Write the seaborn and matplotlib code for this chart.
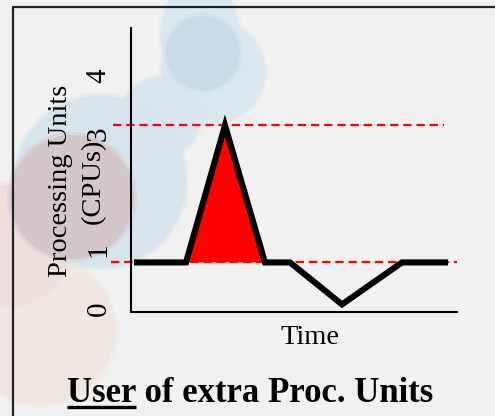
import matplotlib
matplotlib.use("Agg")
import matplotlib.pyplot as plt
import seaborn as sns
import pandas as pd
import numpy as np
from matplotlib.patches import Circle, Ellipse
from matplotlib.lines import Line2D

# data
time_pts = [0, 5.2, 9.1, 13.1, 15.6, 20.8, 26.8, 31.4]
cpu_units = [0.79, 0.79, 3.14, 0.79, 0.79, 0.07, 0.79, 0.79]
base_level = 0.79
peak_level = 3.14
ytick_vals = [0, 1, 3, 4]
ytick_text = ["0", "1", "3", "4"]

df = pd.DataFrame({"Time": time_pts, "CPUs": cpu_units})

sns.set_style("white")
plt.rcParams["font.family"] = ["Liberation Serif", "DejaVu Serif"]
plt.rcParams["text.color"] = "black"
plt.rcParams["axes.labelcolor"] = "black"
plt.rcParams["ytick.color"] = "black"
plt.rcParams["lines.scale_dashes"] = False

fig = plt.figure(figsize=(4.95, 4.16), dpi=100)
fig.patch.set_facecolor("#f1f1f1")

# background decoration (soft shapes)
bg = fig.add_axes([0, 0, 1, 1], zorder=-10)
bg.set_xlim(0, 495)
bg.set_ylim(416, 0)
bg.axis("off")

def blob(cx, cy, r, color, ell=1.0, soft=True):
    if soft:
        bg.add_patch(Ellipse((cx, cy), 2 * r * ell + 6, 2 * r + 6, color=color, alpha=0.4, lw=0))
    bg.add_patch(Ellipse((cx, cy), 2 * r * ell, 2 * r, color=color, lw=0))

blob(40, 330, 75, "#efe6e1")
blob(10, 245, 60, "#eedfdc")
blob(200, 35, 55, "#dae7ef", ell=0.72)
blob(213, 72, 52, "#dbe7ef")
blob(160, 118, 40, "#d8e5ed")
blob(100, 182, 86, "#d6e4ec")
blob(203, 53, 37, "#c9dbe7")
blob(72, 197, 62, "#d3c7cc")

# frame (only top and left edges visible)
fig.add_artist(Line2D([13 / 495, 1], [1 - 7 / 416] * 2, color="#222222", lw=1.6))
fig.add_artist(Line2D([13 / 495] * 2, [0, 1 - 7 / 416], color="#222222", lw=1.6))

ax = fig.add_axes([131 / 495, 1 - 312 / 416, 326 / 495, 284 / 416])
ax.set_facecolor("none")

# threshold lines
ax.plot([-2.3, 32.3], [base_level] * 2, color="#ff0000", lw=1.6, dashes=(6, 3.5), clip_on=False, zorder=2)
ax.plot([-2.1, 31.0], [peak_level] * 2, color="#ff0000", lw=1.6, dashes=(6, 3.5), clip_on=False, zorder=2)

y = np.array(cpu_units)
ax.fill_between(time_pts, y, base_level, where=y >= base_level, interpolate=True,
                color="#ff0000", lw=0, zorder=3)
sns.lineplot(data=df, x="Time", y="CPUs", sort=False, color="black", lw=4.4, ax=ax,
             zorder=4, solid_joinstyle="miter", solid_capstyle="butt")

ax.set_xlim(-0.3, 32.3)
ax.set_ylim(-0.06, 4.81)
ax.set_xticks([])
ax.set_yticks(ytick_vals)
ax.set_yticklabels(ytick_text, rotation=90, va="center")
ax.tick_params(axis="y", length=0, pad=14, labelsize=21, labelcolor="black")
for s in ["top", "right"]:
    ax.spines[s].set_visible(False)
for s in ["left", "bottom"]:
    ax.spines[s].set_color("black")
    ax.spines[s].set_linewidth(1.5)

ax.set_xlabel("Time", fontsize=20.5, color="black")
ax.xaxis.set_label_coords(0.549, -0.045)
ax.set_ylabel("Processing Units\n(CPUs)", fontsize=20.5, color="black",
              multialignment="center", linespacing=1.45)
ax.yaxis.label.set_verticalalignment("center")
ax.yaxis.set_label_coords(-0.166, 0.46)

# title with underlined first word
title_kw = dict(fontsize=25, fontweight="bold", color="black")
t = fig.text(250 / 495, 1 - 402 / 416, "User of extra Proc. Units", ha="center", va="baseline", **title_kw)
fig.canvas.draw()
r = fig.canvas.get_renderer()
bb = t.get_window_extent(r)
tmp = fig.text(0, 0, "User", **title_kw)
w = tmp.get_window_extent(r).width
tmp.remove()
uy = (416 - 407) / 416
fig.add_artist(Line2D([bb.x0 / 495, (bb.x0 + w) / 495], [uy, uy], color="black", lw=2.4, solid_capstyle="butt"))

fig.savefig("out.png", dpi=100, facecolor=fig.get_facecolor())
